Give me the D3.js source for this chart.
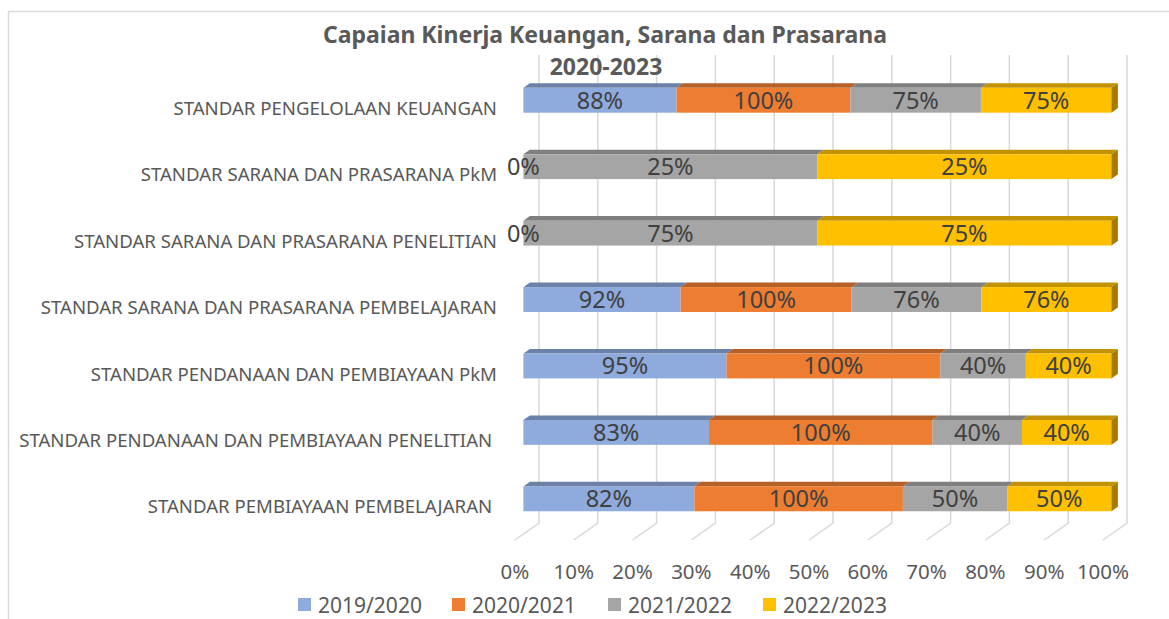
<!DOCTYPE html>
<html>
<head>
<meta charset="utf-8">
<script src="https://cdn.jsdelivr.net/npm/d3@7"></script>
<style>
  body { margin: 0; background: #fff; }
  svg text { font-family: "Noto Sans", "Open Sans", sans-serif; white-space: pre; }
</style>
</head>
<body>
<div id="chart"></div>
<script>
// categories top to bottom (trailing spaces as in the source sheet)
const categories = [
  "STANDAR PENGELOLAAN KEUANGAN",
  "STANDAR SARANA DAN PRASARANA PkM",
  "STANDAR SARANA DAN PRASARANA PENELITIAN",
  "STANDAR SARANA DAN PRASARANA PEMBELAJARAN",
  "STANDAR PENDANAAN DAN PEMBIAYAAN PkM",
  "STANDAR PENDANAAN DAN PEMBIAYAAN PENELITIAN ",
  "STANDAR PEMBIAYAAN PEMBELAJARAN "
];
const seriesNames = ["2019/2020", "2020/2021", "2021/2022", "2022/2023"];
// null = no value in the sheet (no label drawn)
const v2019 = [88, 0, 0, 92, 95, 83, 82];
const v2020 = [100, null, null, 100, 100, 100, 100];
const v2021 = [75, 25, 75, 76, 40, 40, 50];
const v2022 = [75, 25, 75, 76, 40, 40, 50];
const tickValues = [0, 0.1, 0.2, 0.3, 0.4, 0.5, 0.6, 0.7, 0.8, 0.9, 1];

const frontColors = ["#8FAADC", "#ED7D31", "#A5A5A5", "#FFC000"];
const topColors   = ["#6B81A8", "#B65F26", "#7F7F7F", "#C29200"];
const sideColors  = ["#5E7293", "#9E5221", "#6E6E6E", "#A67C00"];

const data = categories.map((c, i) => ({
  cat: c,
  "2019/2020": v2019[i], "2020/2021": v2020[i],
  "2021/2022": v2021[i], "2022/2023": v2022[i]
}));

const width = 1169, height = 619;

// oblique depth: z=0 front plane, z=1 back wall
const DX = 24, DY = 17;
const zFront = 0.35, zBack = 0.62;

const svg = d3.select("#chart").append("svg")
  .attr("width", width).attr("height", height);

// chart area border
svg.append("rect")
  .attr("x", 8.5).attr("y", 11.5)
  .attr("width", 1200).attr("height", 700)
  .attr("fill", "none").attr("stroke", "#D9D9D9").attr("stroke-width", 1.5);

const xScale = d3.scaleLinear().domain([0, 1]).range([515, 1103]);
const yScale = d3.scaleBand().domain(categories).range([73, 538])
  .paddingInner(0.626).paddingOuter(0.313);
const floorY = 540, wallTop = 72;

// back wall + floor gridlines
const grid = svg.append("g").attr("stroke", "#D9D9D9").attr("stroke-width", 1.5).attr("fill", "none");
grid.selectAll("path")
  .data(tickValues)
  .join("path")
    .attr("d", t => {
      const xb = xScale(t) + DX, xf = xScale(t);
      return `M${xb},${wallTop - DY}L${xb},${floorY - DY}L${xf},${floorY}`;
    });

// stacked 100% layout
const stack = d3.stack()
  .keys(seriesNames)
  .value((d, k) => d[k] == null ? 0 : d[k])
  .offset(d3.stackOffsetExpand);
const layers = stack(data);

const bars = svg.append("g");
const fdx = zFront * DX, fdy = zFront * DY;
const bdx = zBack * DX, bdy = zBack * DY;
const bh = yScale.bandwidth();

layers.forEach((layer, si) => {
  const g = bars.append("g");
  // top faces
  g.selectAll("path.top")
    .data(layer.filter(d => d[1] > d[0]))
    .join("path")
      .attr("class", "top")
      .attr("fill", topColors[si])
      .attr("d", d => {
        const y = yScale(d.data.cat);
        const x0 = xScale(d[0]), x1 = xScale(d[1]);
        return `M${x0 + fdx},${y - fdy}L${x1 + fdx},${y - fdy}L${x1 + bdx},${y - bdy}L${x0 + bdx},${y - bdy}Z`;
      });
  // front faces
  g.selectAll("rect")
    .data(layer.filter(d => d[1] > d[0]))
    .join("rect")
      .attr("fill", frontColors[si])
      .attr("x", d => xScale(d[0]) + fdx)
      .attr("y", d => yScale(d.data.cat) - fdy)
      .attr("width", d => xScale(d[1]) - xScale(d[0]))
      .attr("height", bh);
  // right side face on the last segment only
  if (si === seriesNames.length - 1) {
    g.selectAll("path.side")
      .data(layer)
      .join("path")
        .attr("class", "side")
        .attr("fill", sideColors[si])
        .attr("d", d => {
          const y = yScale(d.data.cat);
          const x1 = xScale(d[1]);
          return `M${x1 + fdx},${y - fdy}L${x1 + bdx},${y - bdy}L${x1 + bdx},${y - bdy + bh}L${x1 + fdx},${y - fdy + bh}Z`;
        });
  }
});

// value labels
layers.forEach((layer, si) => {
  bars.append("g").selectAll("text")
    .data(layer.filter(d => d.data[seriesNames[si]] != null))
    .join("text")
      .attr("x", d => (xScale(d[0]) + xScale(d[1])) / 2 + fdx)
      .attr("y", d => yScale(d.data.cat) - fdy + bh / 2)
      .attr("dy", "0.36em")
      .attr("text-anchor", "middle")
      .style("font-size", "23.5px")
      .style("fill", "#404040")
      .text(d => d.data[seriesNames[si]] + "%");
});

// category labels
svg.append("g").selectAll("text")
  .data(categories)
  .join("text")
    .attr("x", 497)
    .attr("y", d => yScale(d) + bh / 2 + 2)
    .attr("dy", "0.36em")
    .attr("text-anchor", "end")
    .style("font-size", "18.6px")
    .style("fill", "#595959")
    .text(d => d);

// x tick labels
svg.append("g").selectAll("text")
  .data(tickValues)
  .join("text")
    .attr("x", d => xScale(d))
    .attr("y", 572)
    .attr("dy", "0.36em")
    .attr("text-anchor", "middle")
    .style("font-size", "20.5px")
    .style("fill", "#595959")
    .text(d3.format(".0%"));

// title
const title = svg.append("text")
  .attr("text-anchor", "middle")
  .style("font-size", "23px")
  .style("font-weight", "bold")
  .style("fill", "#595959");
title.append("tspan").attr("x", 605).attr("y", 43).text("Capaian Kinerja Keuangan, Sarana dan Prasarana");
title.append("tspan").attr("x", 606).attr("y", 75).text("2020-2023");

// legend
const legendX = [298, 452, 608, 763];
const legend = svg.append("g").selectAll("g")
  .data(seriesNames)
  .join("g")
    .attr("transform", (d, i) => `translate(${legendX[i]}, 598)`);
legend.append("rect")
  .attr("width", 13).attr("height", 13)
  .attr("fill", (d, i) => frontColors[i]);
legend.append("text")
  .attr("x", 20).attr("y", 7)
  .attr("dy", "0.36em")
  .style("font-size", "21px")
  .style("fill", "#595959")
  .text(d => d);
</script>
</body>
</html>
